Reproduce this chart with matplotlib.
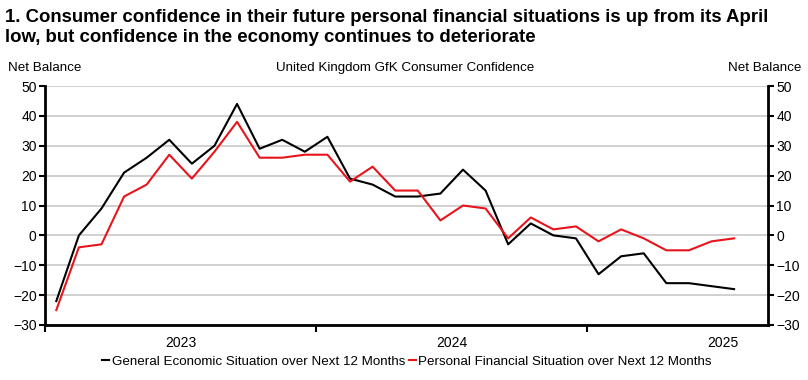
import numpy as np
import matplotlib
matplotlib.use("Agg")
import matplotlib.pyplot as plt

plt.rcParams['font.family'] = ['Liberation Sans', 'DejaVu Sans']

# months since Jan 2023 (mid-month positions)
months = np.arange(31) + 0.5

general = [-22, 0, 9, 21, 26, 32, 24, 30, 44, 29, 32, 28, 33, 19, 17, 13,
           13, 14, 22, 15, -3, 4, 0, -1, -13, -7, -6, -16, -16, -17, -18]
personal = [-25, -4, -3, 13, 17, 27, 19, 28, 38, 26, 26, 27, 27, 18, 23, 15,
            15, 5, 10, 9, -1, 6, 2, 3, -2, 2, -1, -5, -5, -2, -1]

year_labels = ["2023", "2024", "2025"]
year_starts = [0, 12, 24]

fig = plt.figure(figsize=(8.08, 3.8), dpi=100)
ax = fig.add_axes([45 / 808, 55 / 380, 723 / 808, 239 / 380])

ax.plot(months, general, color="black", lw=1.5,
        label="General Economic Situation over Next 12 Months")
ax.plot(months, personal, color="#e8141c", lw=1.5,
        label="Personal Financial Situation over Next 12 Months")

ax.set_xlim(0, 32)
ax.set_ylim(-30, 50)
ax.set_yticks(range(-30, 51, 10))
ax.yaxis.grid(True, color="#c8c8c8", lw=1.2)
ax.set_axisbelow(True)

ax.set_xticks(year_starts)
ax.set_xticklabels([])
ax.set_xticks([s + 6 for s in year_starts], minor=True)
ax.set_xticklabels(year_labels, minor=True)
ax.tick_params(axis="x", which="major", length=5, width=1.5, direction="out")
ax.tick_params(axis="x", which="minor", length=0, pad=8, labelsize=10)
ax.tick_params(axis="y", length=4, width=1.5, labelsize=10, pad=2,
               left=True, right=True, labelleft=True, labelright=True)

ax.spines["top"].set_visible(False)
for s in ["left", "right", "bottom"]:
    ax.spines[s].set_linewidth(2)

fig.text(5 / 808, 1 - 9 / 380,
         "1. Consumer confidence in their future personal financial situations is up from its April\n"
         "low, but confidence in the economy continues to deteriorate",
         fontsize=13.4, fontweight="bold", va="top", ha="left", linespacing=1.2)
fig.text(8 / 808, 1 - 68 / 380, "Net Balance", fontsize=9.6, va="center", ha="left")
fig.text(801 / 808, 1 - 68 / 380, "Net Balance", fontsize=9.6, va="center", ha="right")
fig.text(405 / 808, 1 - 68 / 380, "United Kingdom GfK Consumer Confidence",
         fontsize=9.6, va="center", ha="center")

fig.legend(loc="center", bbox_to_anchor=(407 / 808, 1 - 362 / 380), ncol=2,
           frameon=False, fontsize=9.6, handlelength=0.5, handletextpad=0.2,
           columnspacing=0.3, borderaxespad=0)

fig.savefig("out.png", dpi=100)
